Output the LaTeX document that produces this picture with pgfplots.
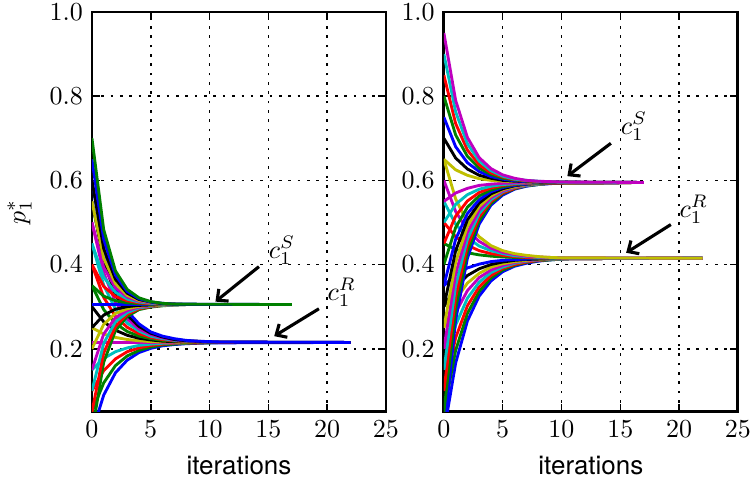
\documentclass[border=0pt]{standalone}
\usepackage{fontspec}
\newfontfamily\hv{TeX Gyre Heros}
\usepackage{pgfplots}
\pgfplotsset{compat=1.18}
\usetikzlibrary{arrows.meta}
\definecolor{mb}{rgb}{0,0,1}
\definecolor{mg}{rgb}{0,0.5,0}
\definecolor{mr}{rgb}{1,0,0}
\definecolor{mc}{rgb}{0,0.75,0.75}
\definecolor{mm}{rgb}{0.75,0,0.75}
\definecolor{my}{rgb}{0.75,0.75,0}
\definecolor{mk}{rgb}{0,0,0}
\pgfplotsset{panel/.style={
  width=113.2pt,height=154pt,scale only axis,
  xmin=0,xmax=25,ymin=0.05,ymax=1.0,
  xtick={0,5,10,15,20,25},
  ytick={0.2,0.4,0.6,0.8,1.0},
  yticklabel style={/pgf/number format/fixed,/pgf/number format/fixed zerofill,/pgf/number format/precision=1},
  grid=major,
  major grid style={black,line width=0.6pt,dash pattern=on 1pt off 2.6pt},
  tick align=inside,
  major tick length=3pt,
  tick style={black,line width=0.6pt},
  axis line style={line width=1.1pt},
  every axis plot/.append style={line width=1.1pt},
  xlabel={\hv iterations},
  anchor=south west,
}}
\tikzset{ann/.style={-{Straight Barb[length=3.2pt,width=6pt]},line width=1.2pt,black}}
\begin{document}
\begin{tikzpicture}
\useasboundingbox (-35.4pt,-25.4pt) rectangle (254.9pt,158.6pt);
% ---------------- left panel ----------------
\begin{axis}[panel, at={(0pt,0pt)}, ylabel={$p_1^*$}]
% R group (limit 0.215)
\addplot[mb] coordinates {(0,0.000)(1,0.090)(2,0.143)(3,0.173)(4,0.191)(5,0.201)(6,0.207)(7,0.210)(8,0.212)(9,0.213)(10,0.214)(11,0.214)(22,0.215)};
\addplot[mg] coordinates {(0,0.050)(1,0.119)(2,0.160)(3,0.183)(4,0.196)(5,0.204)(6,0.209)(7,0.211)(8,0.213)(9,0.214)(10,0.214)(11,0.215)(22,0.215)};
\addplot[mr] coordinates {(0,0.100)(1,0.148)(2,0.176)(3,0.193)(4,0.202)(5,0.208)(6,0.211)(7,0.213)(8,0.214)(9,0.214)(10,0.215)(11,0.215)(22,0.215)};
\addplot[mc] coordinates {(0,0.150)(1,0.177)(2,0.193)(3,0.202)(4,0.208)(5,0.211)(6,0.213)(7,0.214)(8,0.214)(9,0.215)(22,0.215)};
\addplot[mm] coordinates {(0,0.215)(22,0.215)};
\addplot[my] coordinates {(0,0.250)(1,0.235)(2,0.227)(3,0.222)(4,0.219)(5,0.217)(6,0.216)(7,0.216)(8,0.215)(22,0.215)};
\addplot[mk] coordinates {(0,0.300)(1,0.264)(2,0.244)(3,0.232)(4,0.225)(5,0.221)(6,0.218)(7,0.217)(8,0.216)(9,0.216)(10,0.215)(22,0.215)};
\addplot[mg] coordinates {(0,0.350)(1,0.293)(2,0.260)(3,0.241)(4,0.230)(5,0.224)(6,0.220)(7,0.218)(8,0.217)(9,0.216)(10,0.215)(22,0.215)};
\addplot[mr] coordinates {(0,0.400)(1,0.322)(2,0.277)(3,0.251)(4,0.236)(5,0.227)(6,0.222)(7,0.219)(8,0.217)(9,0.216)(10,0.216)(11,0.215)(22,0.215)};
\addplot[mc] coordinates {(0,0.450)(1,0.351)(2,0.294)(3,0.261)(4,0.242)(5,0.230)(6,0.224)(7,0.220)(8,0.218)(9,0.217)(10,0.216)(11,0.216)(22,0.215)};
\addplot[mm] coordinates {(0,0.500)(1,0.380)(2,0.311)(3,0.271)(4,0.247)(5,0.234)(6,0.226)(7,0.221)(8,0.219)(9,0.217)(10,0.216)(11,0.216)(22,0.215)};
\addplot[mk] coordinates {(0,0.550)(1,0.409)(2,0.328)(3,0.280)(4,0.253)(5,0.237)(6,0.228)(7,0.222)(8,0.219)(9,0.218)(10,0.216)(11,0.216)(22,0.215)};
\addplot[mb] coordinates {(0,0.600)(1,0.438)(2,0.345)(3,0.290)(4,0.259)(5,0.240)(6,0.230)(7,0.224)(8,0.220)(9,0.218)(10,0.217)(11,0.216)(22,0.215)};
% S group (limit 0.305)
\addplot[mg] coordinates {(0,0.000)(1,0.168)(2,0.243)(3,0.277)(4,0.293)(5,0.299)(6,0.302)(7,0.304)(8,0.305)(17,0.305)};
\addplot[mr] coordinates {(0,0.050)(1,0.190)(2,0.253)(3,0.282)(4,0.295)(5,0.300)(6,0.303)(7,0.304)(8,0.305)(17,0.305)};
\addplot[mc] coordinates {(0,0.100)(1,0.213)(2,0.264)(3,0.286)(4,0.297)(5,0.301)(6,0.303)(7,0.304)(8,0.305)(17,0.305)};
\addplot[mm] coordinates {(0,0.150)(1,0.235)(2,0.274)(3,0.291)(4,0.299)(5,0.302)(6,0.304)(7,0.305)(17,0.305)};
\addplot[my] coordinates {(0,0.200)(1,0.258)(2,0.284)(3,0.295)(4,0.301)(5,0.303)(6,0.304)(7,0.305)(17,0.305)};
\addplot[mk] coordinates {(0,0.250)(1,0.280)(2,0.294)(3,0.300)(4,0.303)(5,0.304)(6,0.305)(17,0.305)};
\addplot[mb] coordinates {(0,0.305)(17,0.305)};
\addplot[mg] coordinates {(0,0.350)(1,0.325)(2,0.314)(3,0.309)(4,0.307)(5,0.306)(6,0.305)(17,0.305)};
\addplot[mr] coordinates {(0,0.400)(1,0.348)(2,0.324)(3,0.314)(4,0.309)(5,0.307)(6,0.306)(7,0.305)(17,0.305)};
\addplot[mc] coordinates {(0,0.450)(1,0.370)(2,0.334)(3,0.318)(4,0.311)(5,0.308)(6,0.306)(7,0.306)(8,0.305)(17,0.305)};
\addplot[mm] coordinates {(0,0.500)(1,0.393)(2,0.345)(3,0.323)(4,0.313)(5,0.309)(6,0.307)(7,0.306)(8,0.305)(17,0.305)};
\addplot[my] coordinates {(0,0.550)(1,0.415)(2,0.355)(3,0.327)(4,0.315)(5,0.310)(6,0.307)(7,0.306)(8,0.305)(17,0.305)};
\addplot[mk] coordinates {(0,0.600)(1,0.438)(2,0.365)(3,0.332)(4,0.317)(5,0.311)(6,0.307)(7,0.306)(8,0.305)(17,0.305)};
\addplot[mb] coordinates {(0,0.650)(1,0.460)(2,0.375)(3,0.336)(4,0.319)(5,0.311)(6,0.308)(7,0.306)(8,0.306)(17,0.305)};
\addplot[mg] coordinates {(0,0.700)(1,0.483)(2,0.385)(3,0.341)(4,0.321)(5,0.312)(6,0.308)(7,0.306)(8,0.306)(17,0.305)};
% annotations
\node[anchor=base west,inner sep=0pt] at (axis cs:15,0.415) {$c_1^S$};
\draw[ann] (axis cs:14.2,0.395) -- (axis cs:10.5,0.312);
\node[anchor=base west,inner sep=0pt] at (axis cs:20,0.315) {$c_1^R$};
\draw[ann] (axis cs:19.3,0.295) -- (axis cs:15.5,0.230);
\end{axis}
% ---------------- right panel ----------------
\begin{axis}[panel, at={(135.5pt,0pt)}]
% R group (limit 0.415)
\addplot[mb] coordinates {(0,0.000)(1,0.166)(2,0.266)(3,0.325)(4,0.361)(5,0.383)(6,0.396)(7,0.403)(8,0.408)(9,0.411)(10,0.413)(11,0.414)(22,0.415)};
\addplot[mg] coordinates {(0,0.050)(1,0.196)(2,0.284)(3,0.336)(4,0.368)(5,0.387)(6,0.398)(7,0.405)(8,0.409)(9,0.411)(10,0.413)(11,0.414)(22,0.415)};
\addplot[mr] coordinates {(0,0.100)(1,0.226)(2,0.302)(3,0.347)(4,0.374)(5,0.391)(6,0.400)(7,0.406)(8,0.410)(9,0.412)(10,0.413)(11,0.414)(22,0.415)};
\addplot[mc] coordinates {(0,0.150)(1,0.256)(2,0.320)(3,0.358)(4,0.381)(5,0.394)(6,0.403)(7,0.408)(8,0.411)(9,0.412)(10,0.413)(11,0.414)(22,0.415)};
\addplot[mm] coordinates {(0,0.200)(1,0.286)(2,0.338)(3,0.369)(4,0.387)(5,0.398)(6,0.405)(7,0.409)(8,0.411)(9,0.413)(10,0.414)(11,0.414)(22,0.415)};
\addplot[my] coordinates {(0,0.250)(1,0.316)(2,0.356)(3,0.379)(4,0.394)(5,0.402)(6,0.407)(7,0.410)(8,0.412)(9,0.413)(10,0.414)(11,0.414)(22,0.415)};
\addplot[mk] coordinates {(0,0.300)(1,0.346)(2,0.374)(3,0.390)(4,0.400)(5,0.406)(6,0.410)(7,0.412)(8,0.413)(9,0.414)(10,0.414)(11,0.415)(22,0.415)};
\addplot[mb] coordinates {(0,0.350)(1,0.376)(2,0.392)(3,0.401)(4,0.407)(5,0.410)(6,0.412)(7,0.413)(8,0.414)(9,0.414)(10,0.415)(22,0.415)};
\addplot[mg] coordinates {(0,0.450)(1,0.436)(2,0.428)(3,0.423)(4,0.420)(5,0.418)(6,0.417)(7,0.416)(8,0.415)(22,0.415)};
\addplot[mr] coordinates {(0,0.500)(1,0.466)(2,0.446)(3,0.433)(4,0.426)(5,0.422)(6,0.419)(7,0.417)(8,0.416)(9,0.416)(10,0.415)(22,0.415)};
\addplot[mc] coordinates {(0,0.550)(1,0.496)(2,0.464)(3,0.444)(4,0.433)(5,0.426)(6,0.421)(7,0.419)(8,0.417)(9,0.416)(10,0.416)(11,0.415)(22,0.415)};
\addplot[mm] coordinates {(0,0.600)(1,0.526)(2,0.482)(3,0.455)(4,0.439)(5,0.429)(6,0.424)(7,0.420)(8,0.418)(9,0.417)(10,0.416)(11,0.416)(22,0.415)};
\addplot[my] coordinates {(0,0.650)(1,0.556)(2,0.500)(3,0.466)(4,0.445)(5,0.433)(6,0.426)(7,0.422)(8,0.419)(9,0.417)(10,0.416)(11,0.416)(22,0.415)};
% S group (limit 0.595)
\addplot[mb] coordinates {(0,0.000)(1,0.268)(2,0.415)(3,0.496)(4,0.541)(5,0.565)(6,0.579)(7,0.586)(8,0.590)(9,0.592)(10,0.594)(17,0.595)};
\addplot[mg] coordinates {(0,0.050)(1,0.295)(2,0.430)(3,0.504)(4,0.545)(5,0.568)(6,0.580)(7,0.587)(8,0.590)(9,0.593)(17,0.595)};
\addplot[mr] coordinates {(0,0.100)(1,0.323)(2,0.445)(3,0.513)(4,0.550)(5,0.570)(6,0.581)(7,0.588)(8,0.591)(9,0.593)(17,0.595)};
\addplot[mc] coordinates {(0,0.150)(1,0.350)(2,0.460)(3,0.521)(4,0.554)(5,0.573)(6,0.583)(7,0.588)(8,0.591)(9,0.593)(17,0.595)};
\addplot[mm] coordinates {(0,0.200)(1,0.378)(2,0.476)(3,0.529)(4,0.559)(5,0.575)(6,0.584)(7,0.589)(8,0.592)(9,0.593)(17,0.595)};
\addplot[my] coordinates {(0,0.250)(1,0.405)(2,0.491)(3,0.538)(4,0.563)(5,0.578)(6,0.585)(7,0.590)(8,0.592)(9,0.593)(17,0.595)};
\addplot[mk] coordinates {(0,0.300)(1,0.433)(2,0.506)(3,0.546)(4,0.568)(5,0.580)(6,0.587)(7,0.591)(8,0.593)(9,0.594)(17,0.595)};
\addplot[mb] coordinates {(0,0.350)(1,0.460)(2,0.521)(3,0.554)(4,0.573)(5,0.583)(6,0.588)(7,0.591)(8,0.593)(9,0.594)(17,0.595)};
\addplot[mg] coordinates {(0,0.400)(1,0.488)(2,0.536)(3,0.563)(4,0.577)(5,0.585)(6,0.590)(7,0.592)(8,0.593)(9,0.594)(17,0.595)};
\addplot[mr] coordinates {(0,0.450)(1,0.515)(2,0.551)(3,0.571)(4,0.582)(5,0.588)(6,0.591)(7,0.593)(8,0.594)(9,0.594)(17,0.595)};
\addplot[mc] coordinates {(0,0.500)(1,0.543)(2,0.566)(3,0.579)(4,0.586)(5,0.590)(6,0.592)(7,0.594)(8,0.594)(9,0.595)(17,0.595)};
\addplot[mm] coordinates {(0,0.550)(1,0.570)(2,0.581)(3,0.588)(4,0.591)(5,0.593)(6,0.594)(7,0.594)(8,0.595)(17,0.595)};
\addplot[my] coordinates {(0,0.650)(1,0.625)(2,0.612)(3,0.604)(4,0.600)(5,0.598)(6,0.597)(7,0.596)(8,0.595)(17,0.595)};
\addplot[mk] coordinates {(0,0.700)(1,0.653)(2,0.627)(3,0.612)(4,0.605)(5,0.600)(6,0.598)(7,0.597)(8,0.596)(9,0.595)(17,0.595)};
\addplot[mb] coordinates {(0,0.750)(1,0.680)(2,0.642)(3,0.621)(4,0.609)(5,0.603)(6,0.599)(7,0.597)(8,0.596)(9,0.596)(17,0.595)};
\addplot[mg] coordinates {(0,0.800)(1,0.708)(2,0.657)(3,0.629)(4,0.614)(5,0.605)(6,0.601)(7,0.598)(8,0.597)(9,0.596)(17,0.595)};
\addplot[mr] coordinates {(0,0.850)(1,0.735)(2,0.672)(3,0.637)(4,0.618)(5,0.608)(6,0.602)(7,0.599)(8,0.597)(9,0.596)(17,0.595)};
\addplot[mc] coordinates {(0,0.900)(1,0.763)(2,0.687)(3,0.646)(4,0.623)(5,0.610)(6,0.603)(7,0.600)(8,0.598)(9,0.596)(17,0.595)};
\addplot[mm] coordinates {(0,0.950)(1,0.790)(2,0.702)(3,0.654)(4,0.628)(5,0.613)(6,0.605)(7,0.600)(8,0.598)(9,0.597)(10,0.596)(17,0.595)};
% annotations
\node[anchor=base west,inner sep=0pt] at (axis cs:15,0.710) {$c_1^S$};
\draw[ann] (axis cs:14.2,0.688) -- (axis cs:10.5,0.610);
\node[anchor=base west,inner sep=0pt] at (axis cs:20,0.512) {$c_1^R$};
\draw[ann] (axis cs:19.3,0.495) -- (axis cs:15.5,0.428);
\end{axis}
\end{tikzpicture}
\end{document}
